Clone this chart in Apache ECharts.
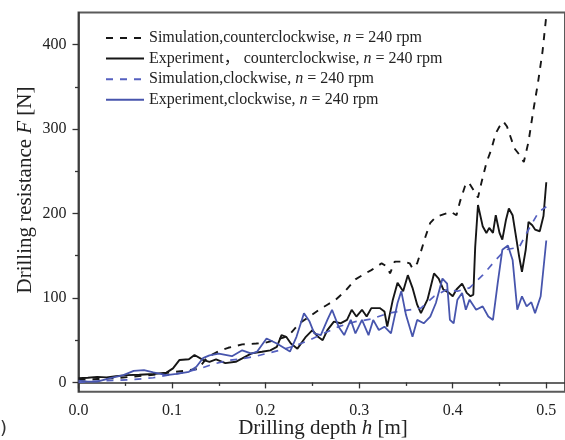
<!DOCTYPE html>
<html>
<head>
<meta charset="utf-8">
<script src="https://cdn.jsdelivr.net/npm/echarts@6/dist/echarts.min.js"></script>
<style>
  html, body { margin: 0; padding: 0; background: #fff; }
  #chart { width: 565px; height: 440px; }
</style>
</head>
<body>
<div id="chart"></div>
<script>
// Drilling resistance versus drilling depth, n = 240 rpm

// Simulation, counterclockwise
const simCcwDepth = [0, 0.02, 0.04, 0.06, 0.08, 0.1, 0.115, 0.128, 0.138, 0.15, 0.16, 0.175, 0.19, 0.2, 0.21, 0.219, 0.225, 0.236, 0.247, 0.257, 0.266, 0.275, 0.285, 0.296, 0.305, 0.313, 0.324, 0.33, 0.333, 0.338, 0.347, 0.354, 0.357, 0.362, 0.366, 0.371, 0.376, 0.382, 0.39, 0.398, 0.404, 0.408, 0.413, 0.417, 0.422, 0.427, 0.431, 0.436, 0.441, 0.446, 0.45, 0.454, 0.458, 0.462, 0.466, 0.471, 0.476, 0.481, 0.486, 0.491, 0.496, 0.5];
const simCcwForce = [3, 4, 5, 7, 9, 12, 14, 16, 30, 37, 41, 45, 46, 47, 50, 53, 56, 70, 78, 86, 92, 98, 108, 122, 128, 133, 141, 137, 129, 143, 143, 141, 135, 141, 155, 173, 189, 196, 199, 202, 198, 215, 232, 237, 228, 219, 238, 260, 275, 295, 303, 309, 303, 290, 277, 270, 261, 285, 321, 354, 392, 434];

// Experiment, counterclockwise
const expCcwDepth = [0, 0.01, 0.02, 0.03, 0.04, 0.052, 0.065, 0.08, 0.094, 0.101, 0.108, 0.118, 0.124, 0.133, 0.14, 0.147, 0.157, 0.168, 0.175, 0.185, 0.196, 0.205, 0.212, 0.217, 0.222, 0.227, 0.234, 0.243, 0.25, 0.256, 0.261, 0.266, 0.273, 0.28, 0.287, 0.292, 0.297, 0.303, 0.308, 0.313, 0.322, 0.327, 0.33, 0.336, 0.341, 0.347, 0.352, 0.357, 0.362, 0.366, 0.373, 0.38, 0.385, 0.39, 0.396, 0.4, 0.404, 0.41, 0.415, 0.419, 0.422, 0.424, 0.427, 0.429, 0.432, 0.436, 0.439, 0.443, 0.446, 0.45, 0.453, 0.457, 0.46, 0.464, 0.467, 0.471, 0.474, 0.478, 0.481, 0.485, 0.488, 0.493, 0.497, 0.5];
const expCcwForce = [5, 5.5, 6.5, 6, 7.5, 8.6, 9, 10, 11.6, 16.6, 26.6, 27.4, 32.4, 26.6, 24.4, 27.4, 22.8, 24.4, 28.4, 34.4, 36.3, 38, 42, 56, 54, 46, 40, 54, 62, 54, 50, 62, 72, 70, 74, 86, 78, 86, 78, 88, 88, 84, 66, 98, 118, 108, 127, 112, 92, 82, 98, 129, 123, 110, 106, 102, 110, 117, 106, 102, 104, 160, 210, 208, 185, 177, 183, 177, 198, 177, 169, 193, 206, 198, 177, 149, 131, 157, 190, 186, 181, 179, 197, 237];

// Simulation, clockwise
const simCwDepth = [0, 0.02, 0.04, 0.06, 0.08, 0.1, 0.115, 0.13, 0.145, 0.16, 0.175, 0.19, 0.2, 0.215, 0.23, 0.245, 0.26, 0.278, 0.296, 0.313, 0.331, 0.348, 0.366, 0.38, 0.394, 0.405, 0.418, 0.432, 0.446, 0.456, 0.471, 0.481, 0.492, 0.5];
const simCwForce = [0, 1.5, 2.5, 3.5, 5.5, 9.5, 12, 16.5, 22, 26, 28, 31, 34, 38, 43, 49, 57, 66, 72, 75, 82, 85, 88, 102, 110, 108, 112, 127, 145, 157, 160, 181, 202, 208];

// Experiment, clockwise
const expCwDepth = [0, 0.01, 0.02, 0.034, 0.048, 0.059, 0.07, 0.08, 0.094, 0.105, 0.118, 0.126, 0.133, 0.14, 0.15, 0.164, 0.175, 0.185, 0.191, 0.201, 0.212, 0.226, 0.233, 0.241, 0.247, 0.252, 0.259, 0.266, 0.271, 0.278, 0.284, 0.291, 0.296, 0.303, 0.31, 0.315, 0.321, 0.327, 0.334, 0.341, 0.345, 0.35, 0.357, 0.362, 0.369, 0.376, 0.382, 0.389, 0.394, 0.397, 0.401, 0.405, 0.41, 0.414, 0.418, 0.425, 0.432, 0.438, 0.443, 0.448, 0.453, 0.459, 0.464, 0.469, 0.474, 0.479, 0.484, 0.488, 0.494, 0.5];
const expCwForce = [2, 1, 1, 5, 8.6, 13.7, 14.5, 12, 8.6, 10, 12.6, 18.5, 28.7, 32, 34, 31, 38, 34, 36.5, 52, 46, 36.5, 54, 82, 72, 58, 56, 74, 86, 66, 56, 74, 58, 74, 56, 74, 62, 66, 58, 94, 108, 80, 54, 74, 70, 78, 94, 123, 117, 74, 70, 98, 106, 86, 98, 86, 90, 78, 74, 117, 157, 162, 145, 86, 102, 90, 95, 82, 102, 168];

// Axis ticks
const depthTicks = [0, 0.1, 0.2, 0.3, 0.4, 0.5];
const depthMinorTicks = [0.05, 0.15, 0.25, 0.35, 0.45];
const forceTicks = [0, 100, 200, 300, 400];
const forceMinorTicks = [50, 150, 250, 350];

const seriesNames = [
  'Simulation,counterclockwise',
  'Experiment，counterclockwise',
  'Simulation,clockwise',
  'Experiment,clockwise'
];
const legendLabels = {
  'Simulation,counterclockwise': 'Simulation,counterclockwise, {i|n} = 240 rpm',
  'Experiment，counterclockwise': 'Experiment， counterclockwise, {i|n} = 240 rpm',
  'Simulation,clockwise': 'Simulation,clockwise, {i|n} = 240 rpm',
  'Experiment,clockwise': 'Experiment,clockwise, {i|n} = 240 rpm'
};

const zip = (xs, ys) => xs.map((x, i) => [x, ys[i]]);

const SERIF = '"Liberation Serif", "Noto Sans CJK SC", serif';
const TEXT = '#222';
const BLACK = '#161616';
const BLUE = '#4755ad';
const BLUE_DASH = '#5560c0';

const chart = echarts.init(document.getElementById('chart'), null, { renderer: 'canvas' });

const xRange = { min: 0, max: 0.52 };
const yRange = { min: -11, max: 438 };

chart.setOption({
  animation: false,
  backgroundColor: '#fff',
  grid: {
    left: 78.5, top: 12.5, width: 494.8, height: 379.2,
    show: true, borderColor: '#5a5a5a', borderWidth: 2
  },
  legend: {
    orient: 'vertical',
    left: 105, top: 29.5, padding: 0,
    itemWidth: 38, itemHeight: 12, itemGap: 3.6,
    data: seriesNames,
    formatter: name => legendLabels[name],
    itemStyle: { color: 'rgba(0,0,0,0)', borderColor: 'rgba(0,0,0,0)', borderWidth: 0, opacity: 0 },
    textStyle: {
      fontFamily: SERIF, fontSize: 16, color: TEXT, lineHeight: 17,
      rich: { i: { fontStyle: 'italic', fontFamily: SERIF, fontSize: 16, color: TEXT } }
    }
  },
  xAxis: [
    {
      type: 'value', position: 'bottom', ...xRange,
      axisLine: { show: true, lineStyle: { color: '#333', width: 1.5 } },
      axisTick: { show: true, inside: false, length: 6, customValues: depthTicks, lineStyle: { color: '#333', width: 1.3 } },
      axisLabel: {
        customValues: depthTicks, margin: 11,
        fontFamily: SERIF, fontSize: 16, color: TEXT,
        formatter: v => v.toFixed(1)
      },
      splitLine: { show: false }
    },
    {
      type: 'value', position: 'bottom', ...xRange,
      axisLine: { show: false },
      axisTick: { show: true, length: 3.5, customValues: depthMinorTicks, lineStyle: { color: '#333', width: 1.3 } },
      axisLabel: { show: false },
      splitLine: { show: false }
    }
  ],
  yAxis: [
    {
      type: 'value', position: 'left', ...yRange,
      axisLine: { show: true, lineStyle: { color: '#333', width: 1.5 } },
      axisTick: { show: true, inside: false, length: 6, customValues: forceTicks, lineStyle: { color: '#333', width: 1.3 } },
      axisLabel: {
        customValues: forceTicks, margin: 12,
        fontFamily: SERIF, fontSize: 16, color: TEXT
      },
      splitLine: { show: false }
    },
    {
      type: 'value', position: 'left', ...yRange,
      axisLine: { show: false },
      axisTick: { show: true, length: 3.5, customValues: forceMinorTicks, lineStyle: { color: '#333', width: 1.3 } },
      axisLabel: { show: false },
      splitLine: { show: false }
    }
  ],
  graphic: [
    {
      type: 'text', x: 323, y: 428,
      style: {
        text: 'Drilling depth {i|h} [m]',
        fontFamily: SERIF, fontSize: 21, fill: TEXT,
        align: 'center', verticalAlign: 'middle',
        rich: { i: { fontStyle: 'italic', fontFamily: SERIF, fontSize: 21, fill: TEXT } }
      }
    },
    {
      type: 'text', x: 25, y: 190, rotation: Math.PI / 2,
      style: {
        text: 'Drilling resistance {i|F} [N]',
        fontFamily: SERIF, fontSize: 21, fill: TEXT,
        align: 'center', verticalAlign: 'middle',
        rich: { i: { fontStyle: 'italic', fontFamily: SERIF, fontSize: 21, fill: TEXT } }
      }
    },
    {
      type: 'text', x: 0, y: 429,
      style: { text: ')', fontFamily: '"DejaVu Sans", sans-serif', fontSize: 18, fill: '#333', align: 'left', verticalAlign: 'middle' }
    }
  ],
  series: [
    {
      name: seriesNames[0], type: 'line', symbol: 'none', showSymbol: false,
      data: zip(simCcwDepth, simCcwForce),
      lineStyle: { color: BLACK, width: 1.9, type: [7, 7] },
      itemStyle: { color: BLACK }
    },
    {
      name: seriesNames[1], type: 'line', symbol: 'none', showSymbol: false,
      data: zip(expCcwDepth, expCcwForce),
      lineStyle: { color: BLACK, width: 1.9 },
      itemStyle: { color: BLACK }
    },
    {
      name: seriesNames[2], type: 'line', symbol: 'none', showSymbol: false,
      data: zip(simCwDepth, simCwForce),
      lineStyle: { color: BLUE_DASH, width: 1.7, type: [7, 7] },
      itemStyle: { color: BLUE_DASH }
    },
    {
      name: seriesNames[3], type: 'line', symbol: 'none', showSymbol: false,
      data: zip(expCwDepth, expCwForce),
      lineStyle: { color: BLUE, width: 1.8 },
      itemStyle: { color: BLUE }
    }
  ]
});
</script>
</body>
</html>
